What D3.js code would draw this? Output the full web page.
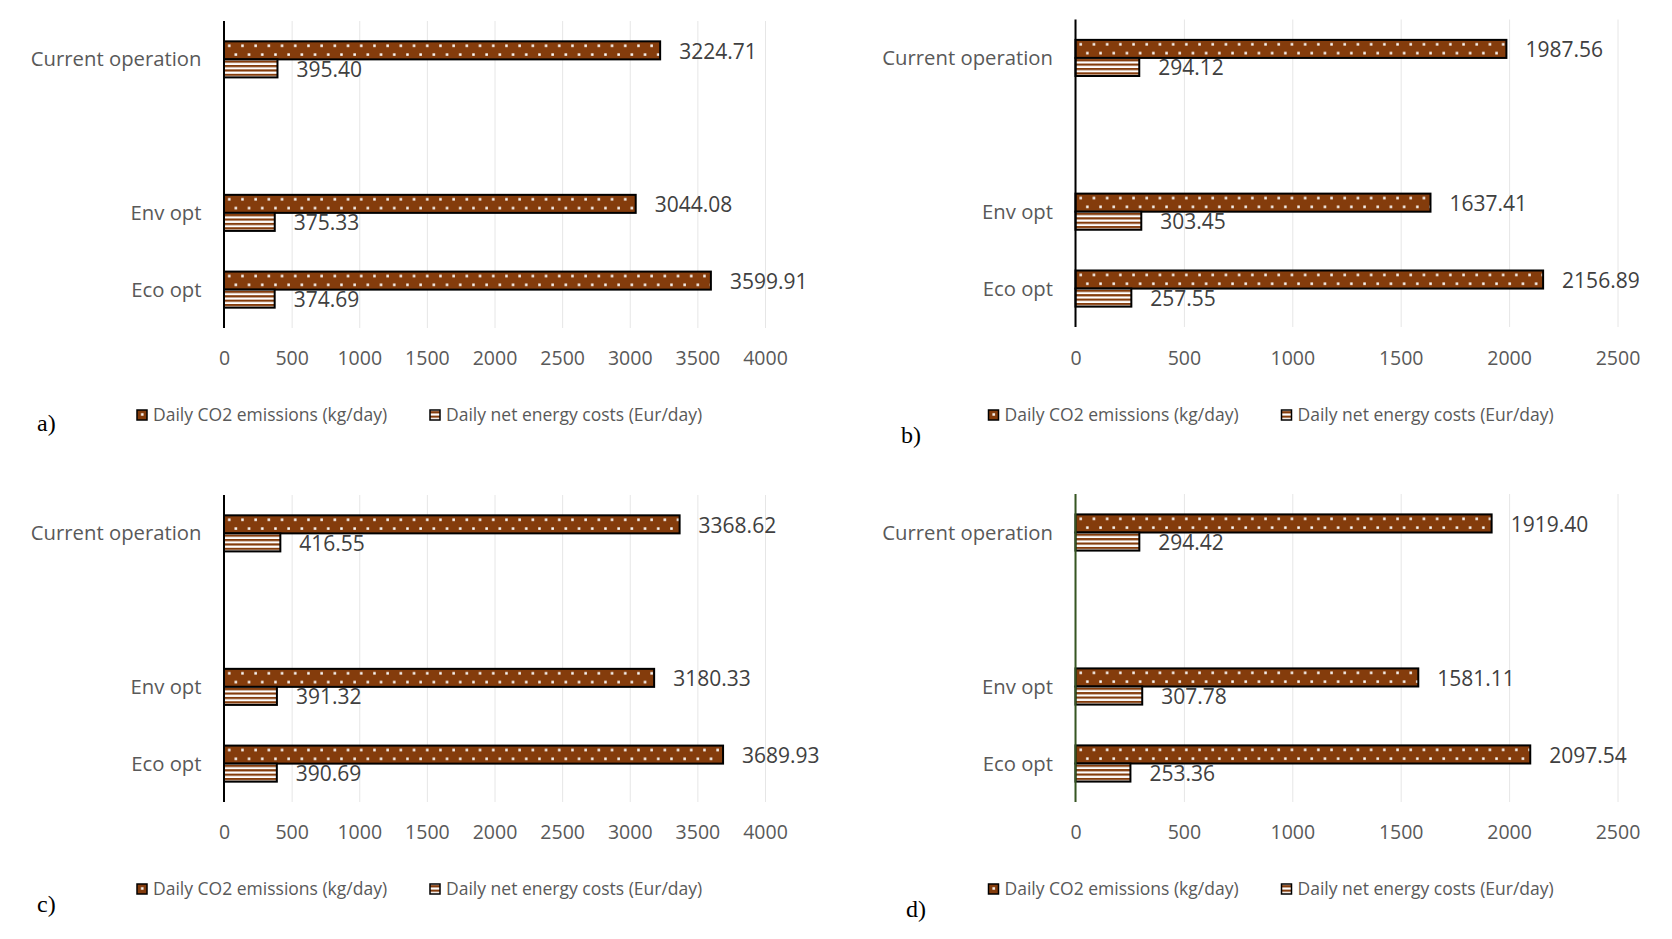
<!DOCTYPE html>
<html><head><meta charset="utf-8">
<script src="https://cdn.jsdelivr.net/npm/d3@7"></script>
<style>body{margin:0;background:#fff} svg{display:block}</style>
</head><body>
<svg id="c" width="1672" height="939"></svg>
<script>
// ---- data ----
const categories = ["Current operation", "Env opt", "Eco opt"];
const bandSlots = ["Current operation", "", "Env opt", "Eco opt"]; // empty slot as in the original
const seriesNames = ["Daily CO2 emissions (kg/day)", "Daily net energy costs (Eur/day)"];
const panelLabels = ["a)", "b)", "c)", "d)"];
const co2A = [3224.71, 3044.08, 3599.91];
const costA = [395.40, 375.33, 374.69];
const co2B = [1987.56, 1637.41, 2156.89];
const costB = [294.12, 303.45, 257.55];
const co2C = [3368.62, 3180.33, 3689.93];
const costC = [416.55, 391.32, 390.69];
const co2D = [1919.40, 1581.11, 2097.54];
const costD = [294.42, 307.78, 253.36];
const ticksAC = [0, 500, 1000, 1500, 2000, 2500, 3000, 3500, 4000];
const ticksBD = [0, 500, 1000, 1500, 2000, 2500];

// ---- layout ----
const FONT = "'Open Sans', Lato, sans-serif";
const BROWN = "#843c0c";
const svg = d3.select("#c");
const defs = svg.append("defs");
const dots = defs.append("pattern").attr("id", "dots").attr("patternUnits", "userSpaceOnUse")
  .attr("width", 13.2).attr("height", 17.6);
dots.append("rect").attr("width", 13.2).attr("height", 17.6).attr("fill", BROWN);
dots.append("rect").attr("x", 4).attr("y", 3.2).attr("width", 2.5).attr("height", 2.5).attr("fill", "#fff");
dots.append("rect").attr("x", 10.6).attr("y", 12).attr("width", 2.5).attr("height", 2.5).attr("fill", "#fff");
const stripes = defs.append("pattern").attr("id", "stripes").attr("patternUnits", "userSpaceOnUse")
  .attr("width", 8).attr("height", 4.4).attr("y", 1.2);
stripes.append("rect").attr("width", 8).attr("height", 4.4).attr("fill", "#fff");
stripes.append("rect").attr("width", 8).attr("height", 2.2).attr("fill", BROWN);
const fills = ["url(#dots)", "url(#stripes)"];

const panels = [
  {co2: co2A, cost: costA, ticks: ticksAC, x0: 224, x1: 765, top: 21, bottom: 328, tickY: 358, legendY: 415, axis: "#000", lx: 37, ly: 431},
  {co2: co2B, cost: costB, ticks: ticksBD, x0: 1075.5, x1: 1617.5, top: 19.5, bottom: 327, tickY: 358, legendY: 415, axis: "#000", lx: 901, ly: 443},
  {co2: co2C, cost: costC, ticks: ticksAC, x0: 224, x1: 765, top: 495, bottom: 802, tickY: 832, legendY: 889, axis: "#000", lx: 37, ly: 912},
  {co2: co2D, cost: costD, ticks: ticksBD, x0: 1075.5, x1: 1617.5, top: 494, bottom: 802, tickY: 832, legendY: 889, axis: "#375623", lx: 906, ly: 917}
];

panels.forEach((p, pi) => {
  const g = svg.append("g");
  const x = d3.scaleLinear().domain([0, d3.max(p.ticks)]).range([p.x0, p.x1]);
  const y = d3.scaleBand().domain(bandSlots).range([p.top, p.bottom]);
  const gh = y.bandwidth() * 0.47;
  const sub = d3.scaleBand().domain(seriesNames).range([-gh / 2, gh / 2]);

  // gridlines + tick labels
  const ax = g.append("g").attr("transform", `translate(0,${p.bottom})`)
    .call(d3.axisBottom(x).tickValues(p.ticks).tickSize(-(p.bottom - p.top)).tickFormat(d3.format("d")));
  ax.select(".domain").remove();
  ax.selectAll(".tick line").attr("stroke", "#e6e6e6").attr("stroke-width", 1);
  ax.selectAll(".tick text").attr("y", p.tickY - p.bottom).attr("dy", "0.35em")
    .attr("fill", "#595959").style("font-family", FONT).style("font-size", "19.5px");

  // bars
  const values = [p.co2, p.cost];
  categories.forEach((cat, i) => {
    const cy = y(cat) + y.bandwidth() / 2;
    seriesNames.forEach((s, si) => {
      const v = values[si][i];
      const by = cy + sub(s);
      const bg = g.append("g").attr("transform", `translate(${p.x0},${by})`);
      bg.append("rect").attr("x", 0).attr("y", 0)
        .attr("width", x(v) - p.x0).attr("height", sub.bandwidth())
        .attr("fill", fills[si]).attr("stroke", "#000").attr("stroke-width", 2);
      g.append("text").attr("x", x(v) + 19).attr("y", by + sub.bandwidth() / 2).attr("dy", "0.4em")
        .attr("fill", "#404040").style("font-family", FONT).style("font-size", "21px")
        .text(d3.format(".2f")(v));
    });
    g.append("text").attr("x", p.x0 - 22.5).attr("y", cy).attr("dy", "0.35em").attr("text-anchor", "end")
      .attr("fill", "#595959").style("font-family", FONT).style("font-size", "20.3px").text(cat);
  });

  // y axis line
  g.append("line").attr("x1", p.x0).attr("x2", p.x0).attr("y1", p.top).attr("y2", p.bottom)
    .attr("stroke", p.axis).attr("stroke-width", 2);

  // legend
  const lxs = [p.x0 - 87, p.x0 + 206];
  seriesNames.forEach((s, si) => {
    const lg = g.append("g").attr("transform", `translate(${lxs[si]},${p.legendY - 5})`);
    lg.append("rect").attr("width", 10).attr("height", 10).attr("fill", fills[si])
      .attr("stroke", "#000").attr("stroke-width", 1.5);
    g.append("text").attr("x", lxs[si] + 16).attr("y", p.legendY).attr("dy", "0.35em")
      .attr("fill", "#595959").style("font-family", FONT).style("font-size", "17.5px").text(s);
  });

  // panel label
  g.append("text").attr("x", p.lx).attr("y", p.ly).attr("fill", "#000")
    .style("font-family", "'Liberation Serif', serif").style("font-size", "24px").text(panelLabels[pi]);
});
</script>
</body></html>
